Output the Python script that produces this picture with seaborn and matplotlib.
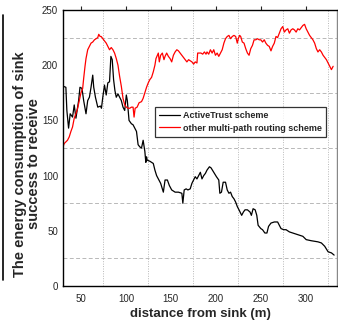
import matplotlib
matplotlib.use("Agg")
import matplotlib.pyplot as plt
from matplotlib.lines import Line2D
from matplotlib.ticker import MultipleLocator
import seaborn as sns
import pandas as pd

black_x = [30, 33.2, 34.3, 36.2, 38.0, 40.6, 42.5, 44.4, 47.4, 48.9, 51.1, 53.0, 55.6, 57.5, 59.4,
           61.2, 63.1, 64.2, 66.1, 68.7, 71.7, 72.8, 74.3, 76.2, 78.1, 79.9, 81.8, 83.3, 84.8, 86.3,
           87.8, 89.3, 91.2, 93.0, 94.9, 96.8, 98.7, 100.5, 101.6, 103.5, 106.1, 108.0, 111.8, 113.6,
           115.5, 117.4, 119.2, 121.1, 122.2, 123.0, 123.7, 126.7, 130.5, 132.3, 134.2, 136.1, 138.7,
           141.7, 143.6, 146.2, 148.4, 151.0, 154.8, 158.5, 162.3, 163.4, 164.9, 167.1, 169.0, 171.6,
           173.5, 175.4, 177.2, 179.1, 181.0, 182.9, 184.7, 186.6, 188.5, 190.3, 193.0, 194.8, 197.8,
           200.8, 203.4, 204.6, 206.4, 208.3, 210.9, 212.8, 214.7, 216.5, 218.4, 220.3, 222.2, 224.0,
           225.9, 228.9, 230.8, 232.6, 235.3, 238.2, 239.7, 241.6, 243.9, 245.7, 247.2, 250.2, 252.1,
           254.7, 257.0, 258.8, 261.5, 265.2, 268.9, 270.8, 272.7, 275.7, 278.3, 282.0, 285.8, 289.5,
           293.3, 297.0, 300.7, 306.4, 313.8, 317.6, 321.3, 325.1, 328.8, 331.8]
black_y = [181, 180, 159, 143, 156, 153, 164, 152, 168, 180, 179, 168, 156, 168, 171,
           180, 191, 180, 171, 162, 163, 161, 171, 182, 173, 184, 185, 208, 205, 187,
           177, 171, 174, 171, 168, 162, 159, 173, 168, 150, 147, 146, 140, 128,
           126, 125, 132, 122, 112, 117, 114, 113, 111, 105, 100, 97, 93,
           85, 96, 96, 91, 87, 85, 85, 84, 75, 87, 88, 87, 88,
           93, 96, 99, 97, 100, 103, 97, 100, 102, 105, 108, 107, 103,
           99, 96, 84, 85, 94, 94, 87, 84, 85, 81, 79, 76, 72,
           69, 64, 67, 69, 69, 67, 64, 70, 69, 64, 55, 52, 51,
           48, 48, 54, 57, 58, 58, 55, 52, 51, 51, 49, 48, 47,
           46, 45, 42, 41, 40, 39, 36, 31, 30, 28]

red_x = [30, 31.3, 35, 36.9, 38.8, 40.6, 42.5, 44.4, 46.3, 48.1, 50, 51.9, 53, 54.5, 55.6, 57.5,
         59.4, 61.2, 63.1, 65, 66.8, 68.7, 69.8, 71.3, 72.5, 74.3, 76.2, 78.1, 79.9, 81.8, 83.7,
         85.6, 87.4, 89.3, 91.2, 93.0, 94.9, 96.8, 98.7, 100.5, 102.4, 104.3, 106.1, 108.0, 109.1,
         110.3, 112.5, 114.7, 117.4, 119.2, 121.1, 123.0, 124.9, 126.7, 128.6, 130.5, 132.3, 133.5,
         135.0, 136.1, 137.2, 138.7, 140.6, 142.4, 143.6, 145.4, 147.3, 149.2, 151.0, 152.9, 154.8,
         156.7, 158.5, 160.4, 162.3, 164.1, 166.0, 167.9, 169.8, 171.6, 173.5, 175.4, 177.2, 179.1,
         179.9, 181.7, 183.6, 185.5, 187.4, 189.2, 190.3, 192.2, 194.1, 196.0, 197.8, 199.7, 201.6,
         203.4, 205.3, 207.2, 209.1, 210.9, 212.8, 214.7, 216.5, 218.4, 220.3, 222.2, 224.0, 225.1,
         226.6, 227.8, 229.6, 231.5, 233.4, 235.3, 237.1, 239.0, 240.9, 242.7, 244.6, 246.5, 248.4,
         250.2, 252.1, 254.0, 255.8, 257.7, 259.6, 261.5, 263.3, 265.2, 267.1, 268.9, 270.8, 272.7,
         274.6, 276.4, 278.3, 280.2, 282.0, 283.9, 285.8, 287.6, 289.5, 291.4, 293.3, 295.1, 297.0,
         298.9, 300.7, 302.6, 304.5, 306.4, 308.2, 310.1, 312.0, 313.8, 315.7, 317.6, 319.5, 321.3,
         323.2, 325.1, 327.0, 328.8, 330.7]
red_y = [126, 129, 132, 135, 140, 144, 152, 156, 161, 168, 175, 179, 188, 199, 206, 214,
         217, 220, 221, 223, 224, 225, 228, 226, 226, 224, 222, 220, 217, 214, 216,
         214, 211, 206, 200, 190, 181, 170, 164, 162, 161, 161, 162, 162, 153,
         161, 162, 166, 167, 170, 175, 180, 184, 187, 189, 194, 200, 206,
         209, 211, 203, 209, 211, 205, 208, 211, 208, 206, 203, 209, 212,
         214, 213, 211, 209, 207, 205, 203, 205, 204, 203, 201, 203, 202,
         211, 211, 211, 210, 212, 210, 212, 210, 214, 211, 214, 209, 211,
         208, 211, 214, 220, 224, 226, 227, 224, 226, 227, 226, 220, 224,
         227, 226, 221, 220, 215, 211, 209, 215, 218, 223, 223, 224, 223,
         223, 221, 223, 220, 218, 217, 213, 217, 220, 226, 225, 229, 233,
         235, 230, 232, 233, 229, 232, 233, 232, 230, 233, 232, 234, 236,
         237, 233, 230, 227, 225, 223, 220, 215, 212, 214, 212, 209, 207,
         205, 202, 199, 196, 199]

labels = ["ActiveTrust scheme", "other multi-path routing scheme"]

df = pd.concat([
    pd.DataFrame({"d": black_x, "e": black_y, "s": labels[0]}),
    pd.DataFrame({"d": red_x, "e": red_y, "s": labels[1]}),
])

sns.set_style("white")
plt.rcParams["font.family"] = ["Liberation Sans", "DejaVu Sans"]

fig = plt.figure(figsize=(3.38, 3.26), dpi=100)
ax = fig.add_axes([63 / 338, 1 - 286 / 326, 274 / 338, 276 / 326])

sns.lineplot(data=df, x="d", y="e", hue="s", palette=["black", "red"],
             linewidth=0.9, ax=ax, sort=False, estimator=None)

ax.set_xlim(30, 335)
ax.set_ylim(0, 250)
ax.xaxis.set_major_locator(MultipleLocator(50))
ax.yaxis.set_major_locator(MultipleLocator(50))

for v in [75, 125, 175, 225, 275, 325]:
    ax.axvline(v, color="#b8b8b8", lw=0.7, ls=(0, (1, 1.5)), zorder=0)
for v in [25, 75, 125, 175, 225]:
    ax.axhline(v, color="#b8b8b8", lw=0.7, ls=(0, (4, 2.5)), zorder=0)

for sp in ["left", "bottom", "top"]:
    ax.spines[sp].set_color("black")
    ax.spines[sp].set_linewidth(1.0)
ax.spines["right"].set_color("#888888")
ax.spines["right"].set_linewidth(1.0)

ax.tick_params(axis="x", which="major", direction="out", length=3, pad=3,
               labelsize=7, top=True, labeltop=False, bottom=False)
ax.tick_params(axis="y", which="major", direction="out", length=2, pad=1.5, labelsize=7)

ax.set_xlabel("distance from sink (m)", fontsize=9.5, fontweight="bold", labelpad=3)
ax.set_ylabel("The energy consumption of sink\nsuccess to receive", fontsize=10.5,
              fontweight="bold", linespacing=0.95)
ax.yaxis.set_label_coords(-0.082, 0.442)

leg = ax.legend(loc="upper right", bbox_to_anchor=(0.959, 0.647), fontsize=6.5,
                frameon=True, fancybox=False, handlelength=2.3, borderpad=0.45,
                labelspacing=0.35, handletextpad=0.3, borderaxespad=0)
leg.get_frame().set_edgecolor("black")
leg.get_frame().set_linewidth(0.9)
for t in leg.get_texts():
    t.set_fontweight("semibold")

fig.add_artist(Line2D([2.5 / 338, 2.5 / 338], [1 - 15 / 326, 1 - 280 / 326],
                      transform=fig.transFigure, color="black", lw=1.2))

fig.savefig("out.png", dpi=100)
